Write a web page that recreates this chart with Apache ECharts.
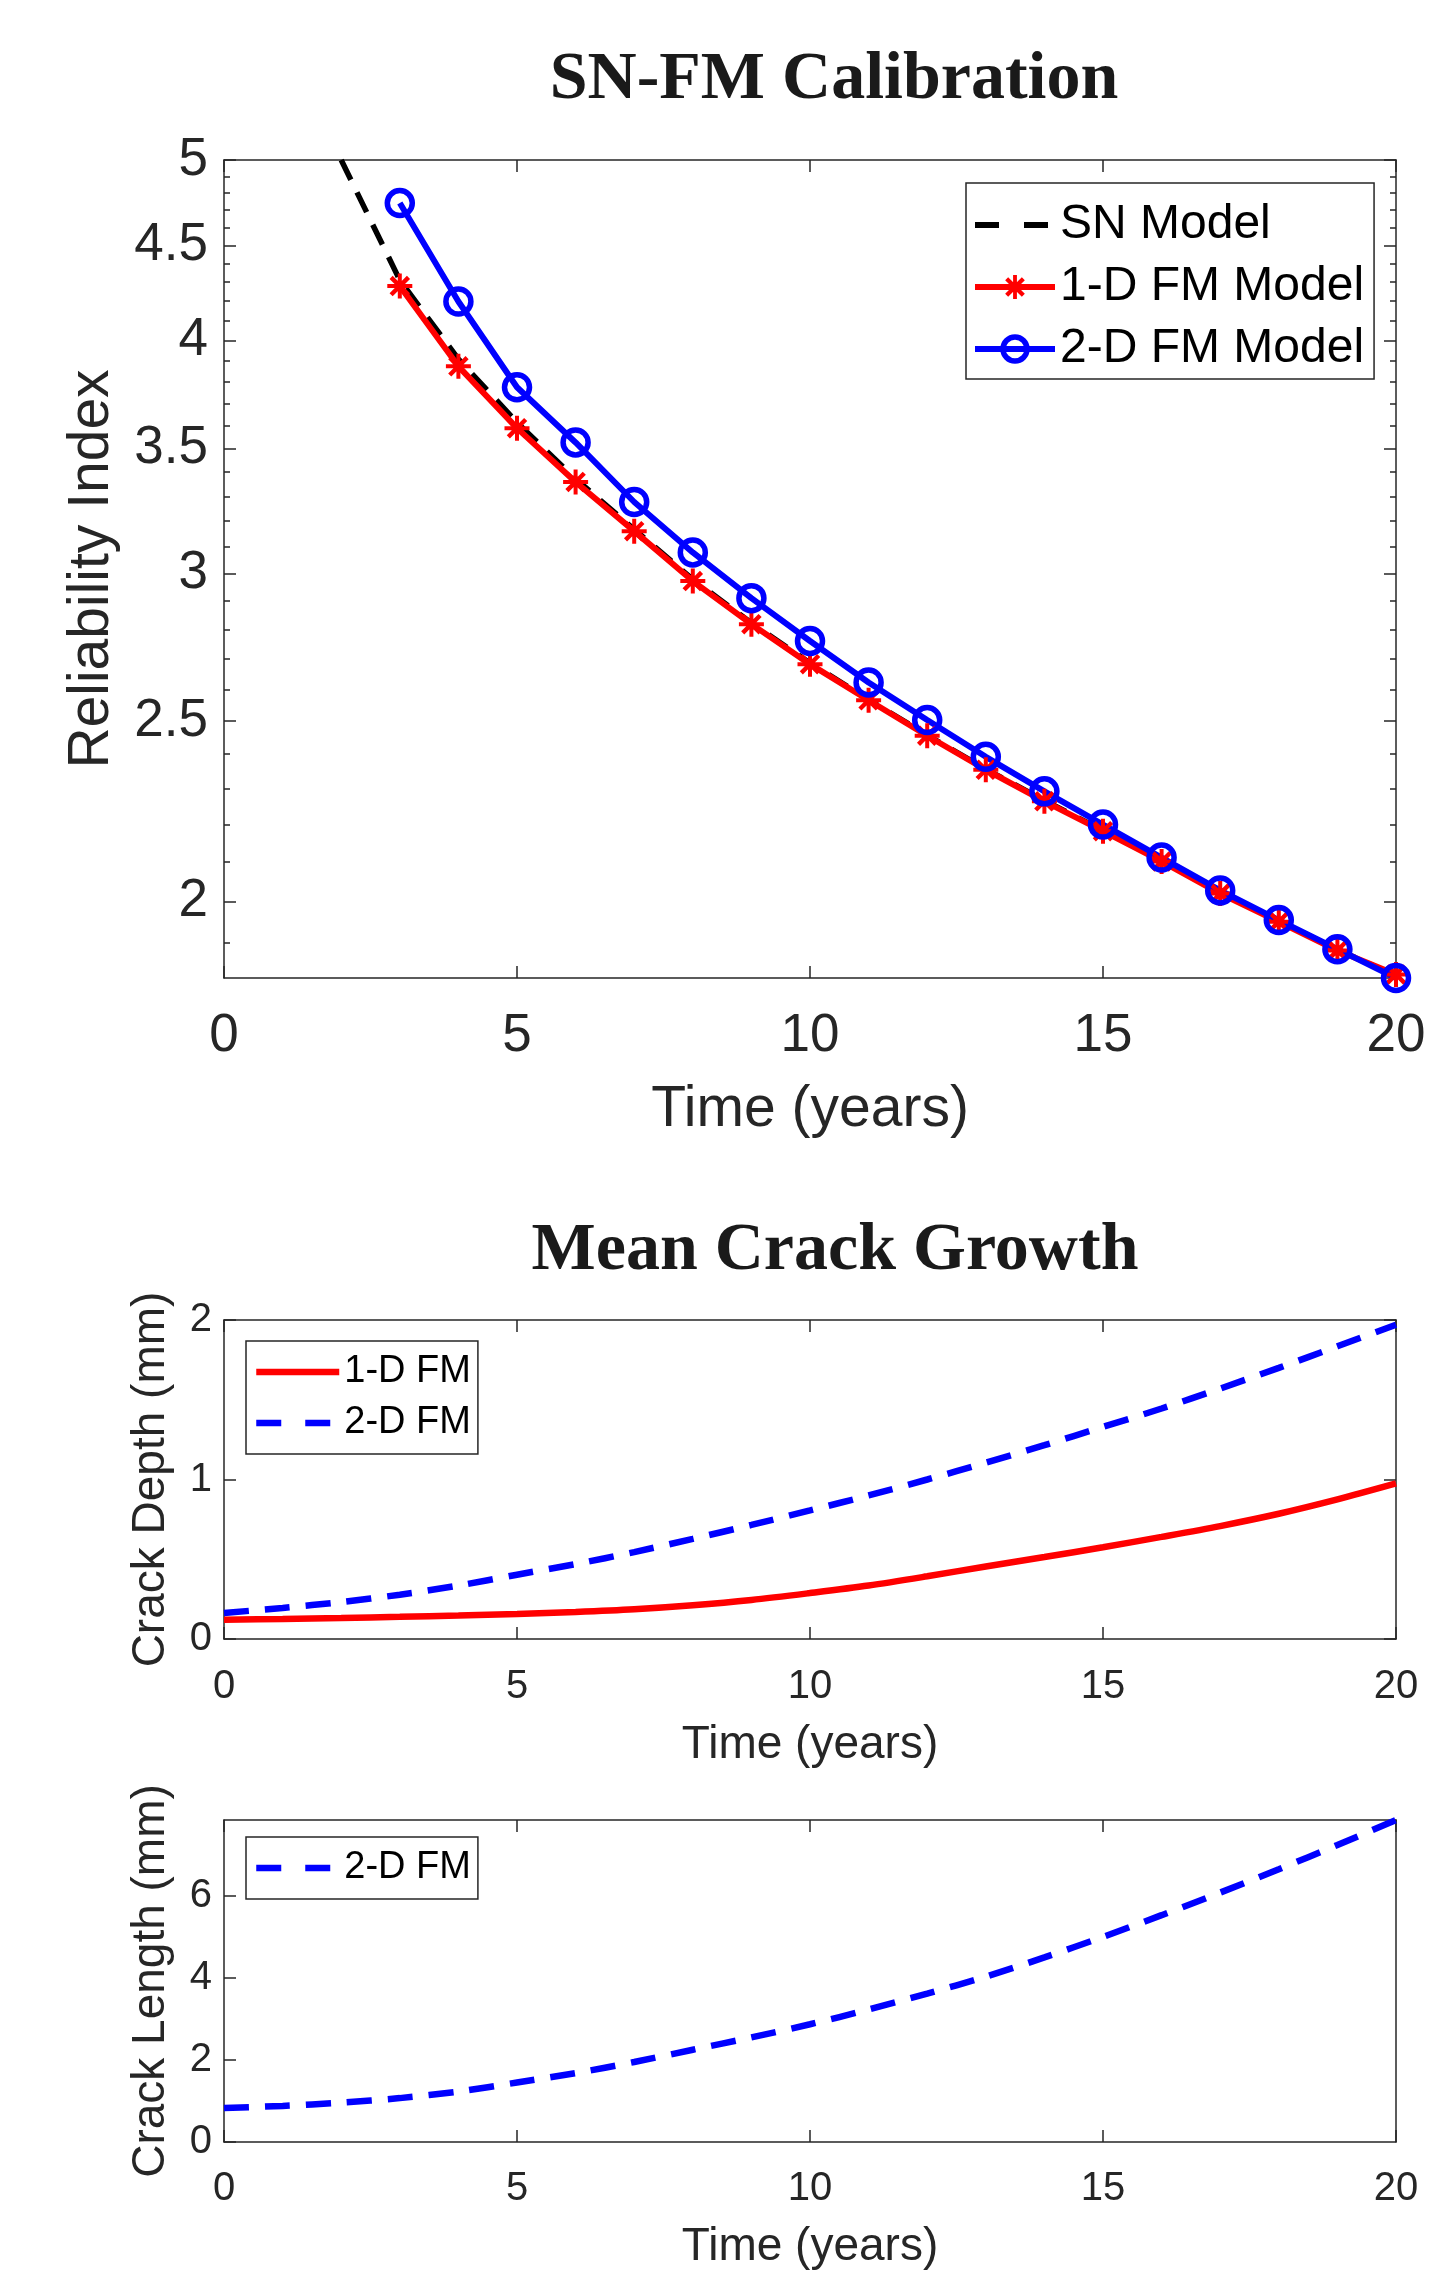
<!DOCTYPE html>
<html>
<head>
<meta charset="utf-8">
<script src="https://cdn.jsdelivr.net/npm/echarts@6/dist/echarts.min.js"></script>
<style>
html,body{margin:0;padding:0;background:#fff;}
#chart{width:1445px;height:2276px;}
</style>
</head>
<body>
<div id="chart"></div>
<script>
// ---------- data ----------
const snYears = [2,3,4,5,6,7,8,9,10,11,12,13,14,15,16,17,18,19,20];
const snModel = [5.0,4.31,3.91,3.615,3.372,3.168,2.978,2.822,2.686,2.567,2.457,2.356,2.266,2.184,2.104,2.023,1.953,1.885,1.825];

const fmYears = [3,4,5,6,7,8,9,10,11,12,13,14,15,16,17,18,19,20];
const fm1D = [4.279,3.875,3.590,3.359,3.161,2.972,2.818,2.682,2.565,2.455,2.354,2.264,2.182,2.102,2.020,1.951,1.883,1.828];
const fm2D = [4.741,4.198,3.776,3.527,3.277,3.079,2.910,2.760,2.622,2.503,2.392,2.292,2.200,2.112,2.028,1.955,1.886,1.820];

const growthYears = [0,1,2,3,4,5,6,7,8,9,10,11,12,13,14,15,16,17,18,19,20];
const depth1D = [0.121,0.126,0.132,0.139,0.147,0.157,0.170,0.187,0.212,0.245,0.288,0.335,0.393,0.455,0.514,0.575,0.640,0.708,0.785,0.875,0.975];
const depth2D = [0.163,0.195,0.232,0.278,0.335,0.403,0.470,0.545,0.628,0.715,0.806,0.900,1.000,1.105,1.215,1.330,1.445,1.570,1.700,1.835,1.970];
const length2D = [0.83,0.88,0.96,1.07,1.23,1.45,1.68,1.95,2.25,2.55,2.87,3.23,3.62,4.03,4.50,5.00,5.53,6.08,6.65,7.24,7.85];

const relMajorTicks = [2,2.5,3,3.5,4,4.5,5];
const relMinorTicks = [1.9,2.1,2.2,2.3,2.4,2.6,2.7,2.8,2.9,3.1,3.2,3.3,3.4,3.6,3.7,3.8,3.9,4.1,4.2,4.3,4.4,4.6,4.7,4.8,4.9];
const depthTicks = [0,1,2];
const lengthTicks = [0,2,4,6];

// ---------- styling ----------
const SANS = '"Liberation Sans", Arial, Helvetica, sans-serif';
const SERIF = '"Liberation Serif", "Times New Roman", serif';
const AX = '#262626';
const RED = '#ff0000', BLUE = '#0000ff';
const ASTERISK = 'path://M8.4 0h3.2v20h-3.2Z M0 8.4h20v3.2h-20Z M4.3 1.8L18.2 15.7L15.7 18.2L1.8 4.3Z M15.7 1.8L18.2 4.3L4.3 18.2L1.8 15.7Z';

const pairs = (xs, ys) => xs.map((x, i) => [x, ys[i]]);

const lineAx = (show) => ({ show: show, onZero: false, lineStyle: { color: AX, width: 1.5 } });
const tickAx = (len, custom) => {
  const t = { show: true, inside: true, length: len, lineStyle: { color: AX, width: 1.5 } };
  if (custom) t.customValues = custom;
  return t;
};

function xAxes(grid, fs, margin, nameGap, nameFs) {
  return [
    {
      gridIndex: grid, type: 'value', min: 0, max: 20, interval: 5, position: 'bottom',
      axisLine: lineAx(true), axisTick: tickAx(12), splitLine: { show: false },
      axisLabel: { fontSize: fs, fontFamily: SANS, color: AX, margin: margin },
      name: 'Time (years)', nameLocation: 'middle', nameGap: nameGap,
      nameTextStyle: { fontSize: nameFs, fontFamily: SANS, color: AX }
    },
    {
      gridIndex: grid, type: 'value', min: 0, max: 20, interval: 5, position: 'top',
      axisLine: lineAx(true), axisTick: tickAx(12), splitLine: { show: false },
      axisLabel: { show: false }
    }
  ];
}

const noSym = { opacity: 0 };

const chart = echarts.init(document.getElementById('chart'), null, { renderer: 'canvas' });

const option = {
  animation: false,
  backgroundColor: '#ffffff',
  title: [
    { text: 'SN-FM Calibration', left: 829, top: 41, textAlign: 'center',
      textStyle: { fontFamily: SERIF, fontWeight: 'bold', fontSize: 68, color: '#1a1a1a' } },
    { text: 'Mean Crack Growth', left: 830, top: 1212, textAlign: 'center',
      textStyle: { fontFamily: SERIF, fontWeight: 'bold', fontSize: 68, color: '#1a1a1a' } }
  ],
  grid: [
    { left: 224, top: 160, width: 1172, height: 818, outerBoundsMode: 'none' },
    { left: 224, top: 1320, width: 1172, height: 319, outerBoundsMode: 'none' },
    { left: 224, top: 1820, width: 1172, height: 322, outerBoundsMode: 'none' }
  ],
  legend: [
    {
      data: [
        { name: 'SN Model', itemStyle: noSym, lineStyle: { type: [24, 25] } },
        '1-D FM Model', '2-D FM Model'
      ],
      orient: 'vertical', left: 966, top: 183, itemWidth: 80, itemHeight: 30, itemGap: 14,
      padding: [18, 10, 6, 6], backgroundColor: '#fff', borderColor: AX, borderWidth: 1.5,
      selectedMode: false, lineStyle: { width: 6 }, itemStyle: { borderWidth: 'inherit' },
      textStyle: { fontSize: 48, fontFamily: SANS, color: '#000' }
    },
    {
      data: [
        { name: '1-D FM', itemStyle: noSym },
        { name: '2-D FM', itemStyle: noSym, lineStyle: { type: [25, 24] } }
      ],
      orient: 'vertical', left: 246, top: 1341, itemWidth: 83, itemHeight: 22, itemGap: 13,
      padding: [12, 7, 12, 7], backgroundColor: '#fff', borderColor: AX, borderWidth: 1.5,
      selectedMode: false, lineStyle: { width: 6.5 },
      textStyle: { fontSize: 38, fontFamily: SANS, color: '#000' }
    },
    {
      data: [{ name: '2-D FM', itemStyle: noSym, lineStyle: { type: [25, 24] } }],
      orient: 'vertical', left: 246, top: 1837, itemWidth: 83, itemHeight: 22, itemGap: 13,
      padding: [12, 7, 12, 7], backgroundColor: '#fff', borderColor: AX, borderWidth: 1.5,
      selectedMode: false, lineStyle: { width: 6.5 },
      textStyle: { fontSize: 38, fontFamily: SANS, color: '#000' }
    }
  ],
  xAxis: [].concat(
    xAxes(0, 53, 32, 104, 57),
    xAxes(1, 40, 28, 83, 46),
    xAxes(2, 40, 27, 82, 46)
  ),
  yAxis: [
    // top chart (log scale)
    {
      gridIndex: 0, type: 'log', logBase: 10, min: 1.82, max: 5, position: 'left',
      axisLine: lineAx(true), axisTick: tickAx(12, relMajorTicks), splitLine: { show: false },
      axisLabel: { customValues: relMajorTicks, fontSize: 53, fontFamily: SANS, color: AX, margin: 16 },
      name: 'Reliability Index', nameLocation: 'middle', nameGap: 103,
      nameTextStyle: { fontSize: 57, fontFamily: SANS, color: AX }
    },
    {
      gridIndex: 0, type: 'log', logBase: 10, min: 1.82, max: 5, position: 'left',
      axisLine: lineAx(false), axisTick: tickAx(6, relMinorTicks), splitLine: { show: false },
      axisLabel: { show: false }
    },
    {
      gridIndex: 0, type: 'log', logBase: 10, min: 1.82, max: 5, position: 'right',
      axisLine: lineAx(true), axisTick: tickAx(12, relMajorTicks), splitLine: { show: false },
      axisLabel: { show: false }
    },
    {
      gridIndex: 0, type: 'log', logBase: 10, min: 1.82, max: 5, position: 'right',
      axisLine: lineAx(false), axisTick: tickAx(6, relMinorTicks), splitLine: { show: false },
      axisLabel: { show: false }
    },
    // depth chart
    {
      gridIndex: 1, type: 'value', min: 0, max: 2, interval: 1, position: 'left',
      axisLine: lineAx(true), axisTick: tickAx(12, depthTicks), splitLine: { show: false },
      axisLabel: { customValues: depthTicks, fontSize: 40, fontFamily: SANS, color: AX, margin: 12 },
      name: 'Crack Depth (mm)', nameLocation: 'middle', nameGap: 50,
      nameTextStyle: { fontSize: 46, fontFamily: SANS, color: AX }
    },
    {
      gridIndex: 1, type: 'value', min: 0, max: 2, interval: 1, position: 'right',
      axisLine: lineAx(true), axisTick: tickAx(12, depthTicks), splitLine: { show: false },
      axisLabel: { show: false }
    },
    // length chart
    {
      gridIndex: 2, type: 'value', min: 0, max: 'dataMax', position: 'left',
      axisLine: lineAx(true), axisTick: tickAx(12, lengthTicks), splitLine: { show: false },
      axisLabel: { customValues: lengthTicks, fontSize: 40, fontFamily: SANS, color: AX, margin: 12 },
      name: 'Crack Length (mm)', nameLocation: 'middle', nameGap: 50,
      nameTextStyle: { fontSize: 46, fontFamily: SANS, color: AX }
    },
    {
      gridIndex: 2, type: 'value', min: 0, max: 'dataMax', position: 'right',
      axisLine: lineAx(true), axisTick: tickAx(12, lengthTicks), splitLine: { show: false },
      axisLabel: { show: false }
    }
  ],
  series: [
    {
      name: 'SN Model', type: 'line', xAxisIndex: 0, yAxisIndex: 0,
      data: pairs(snYears, snModel), symbol: 'none', color: '#000',
      lineStyle: { color: '#000', width: 5.5, type: [22, 14] }
    },
    {
      name: '1-D FM Model', type: 'line', xAxisIndex: 0, yAxisIndex: 0,
      data: pairs(fmYears, fm1D), symbol: ASTERISK, symbolSize: 25, color: RED,
      lineStyle: { color: RED, width: 6 }, itemStyle: { color: RED }
    },
    {
      name: '2-D FM Model', type: 'line', xAxisIndex: 0, yAxisIndex: 0,
      data: pairs(fmYears, fm2D), symbol: 'circle', symbolSize: 25, color: BLUE,
      lineStyle: { color: BLUE, width: 6 },
      itemStyle: { color: 'rgba(0,0,0,0)', borderColor: BLUE, borderWidth: 5.5 }
    },
    {
      name: '1-D FM', type: 'line', xAxisIndex: 2, yAxisIndex: 4,
      data: pairs(growthYears, depth1D), symbol: 'none', smooth: 0.3, color: RED,
      lineStyle: { color: RED, width: 6.5 }
    },
    {
      name: '2-D FM', type: 'line', xAxisIndex: 2, yAxisIndex: 4,
      data: pairs(growthYears, depth2D), symbol: 'none', smooth: 0.3, color: BLUE,
      lineStyle: { color: BLUE, width: 6.5, type: [25, 16] }
    },
    {
      name: '2-D FM', type: 'line', xAxisIndex: 4, yAxisIndex: 6,
      data: pairs(growthYears, length2D), symbol: 'none', smooth: 0.3, color: BLUE,
      lineStyle: { color: BLUE, width: 6.5, type: [25, 16] }
    }
  ]
};

chart.setOption(option);
</script>
</body>
</html>
